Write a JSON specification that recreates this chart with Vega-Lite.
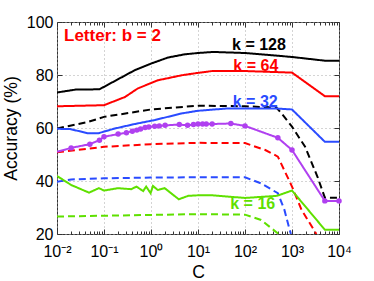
{
  "$schema": "https://vega.github.io/schema/vega-lite/v6.json",
  "width": 282,
  "height": 212,
  "autosize": {"type": "none"},
  "padding": {"left": 57, "top": 22, "right": 35, "bottom": 47},
  "config": {
    "view": {"stroke": "#333333", "strokeWidth": 1},
    "font": "Liberation Sans",
    "axis": {
      "labelFont": "Liberation Sans",
      "labelFontSize": 16,
      "labelColor": "#000000",
      "titleFont": "Liberation Sans",
      "titleFontSize": 17.6,
      "titleFontWeight": "normal",
      "titleColor": "#000000",
      "gridColor": "#a8a8a8",
      "gridDash": [1, 3],
      "gridWidth": 1,
      "domain": false,
      "tickColor": "#333333",
      "labelFlush": false,
      "labelOverlap": false
    }
  },
  "datasets": {
    "curves": [
      {"s": "k128", "k": "128", "d": "solid", "C": 0.01, "acc": 73.4},
      {"s": "k128", "k": "128", "d": "solid", "C": 0.025, "acc": 74.5},
      {"s": "k128", "k": "128", "d": "solid", "C": 0.08, "acc": 74.6},
      {"s": "k128", "k": "128", "d": "solid", "C": 0.45, "acc": 81.8},
      {"s": "k128", "k": "128", "d": "solid", "C": 1, "acc": 84.3},
      {"s": "k128", "k": "128", "d": "solid", "C": 2.3, "acc": 86.6},
      {"s": "k128", "k": "128", "d": "solid", "C": 5.2, "acc": 87.8},
      {"s": "k128", "k": "128", "d": "solid", "C": 10, "acc": 88.3},
      {"s": "k128", "k": "128", "d": "solid", "C": 21, "acc": 88.7},
      {"s": "k128", "k": "128", "d": "solid", "C": 100, "acc": 88.3},
      {"s": "k128", "k": "128", "d": "solid", "C": 300, "acc": 87.6},
      {"s": "k128", "k": "128", "d": "solid", "C": 1000, "acc": 86.8},
      {"s": "k128", "k": "128", "d": "solid", "C": 5000, "acc": 85.4},
      {"s": "k128", "k": "128", "d": "solid", "C": 10000, "acc": 85.4},

      {"s": "k64", "k": "64", "d": "solid", "C": 0.01, "acc": 68.2},
      {"s": "k64", "k": "64", "d": "solid", "C": 0.1, "acc": 68.6},
      {"s": "k64", "k": "64", "d": "solid", "C": 0.28, "acc": 71.7},
      {"s": "k64", "k": "64", "d": "solid", "C": 0.52, "acc": 74.9},
      {"s": "k64", "k": "64", "d": "solid", "C": 1.4, "acc": 78.0},
      {"s": "k64", "k": "64", "d": "solid", "C": 4.5, "acc": 79.9},
      {"s": "k64", "k": "64", "d": "solid", "C": 10, "acc": 80.8},
      {"s": "k64", "k": "64", "d": "solid", "C": 20, "acc": 81.5},
      {"s": "k64", "k": "64", "d": "solid", "C": 100, "acc": 81.5},
      {"s": "k64", "k": "64", "d": "solid", "C": 1000, "acc": 80.9},
      {"s": "k64", "k": "64", "d": "solid", "C": 5000, "acc": 72.0},
      {"s": "k64", "k": "64", "d": "solid", "C": 10000, "acc": 72.0},

      {"s": "k128d", "k": "128", "d": "dashed", "C": 0.01, "acc": 59.8},
      {"s": "k128d", "k": "128", "d": "dashed", "C": 0.046, "acc": 62.3},
      {"s": "k128d", "k": "128", "d": "dashed", "C": 0.1, "acc": 64.2},
      {"s": "k128d", "k": "128", "d": "dashed", "C": 1, "acc": 67.0},
      {"s": "k128d", "k": "128", "d": "dashed", "C": 10, "acc": 68.4},
      {"s": "k128d", "k": "128", "d": "dashed", "C": 100, "acc": 68.2},
      {"s": "k128d", "k": "128", "d": "dashed", "C": 465, "acc": 67.7},
      {"s": "k128d", "k": "128", "d": "dashed", "C": 600, "acc": 65.5},
      {"s": "k128d", "k": "128", "d": "dashed", "C": 1000, "acc": 60.5},
      {"s": "k128d", "k": "128", "d": "dashed", "C": 1900, "acc": 52.9},
      {"s": "k128d", "k": "128", "d": "dashed", "C": 3500, "acc": 41.5},
      {"s": "k128d", "k": "128", "d": "dashed", "C": 5000, "acc": 33.7},
      {"s": "k128d", "k": "128", "d": "dashed", "C": 10000, "acc": 33.7},

      {"s": "k32", "k": "32", "d": "solid", "C": 0.01, "acc": 59.7},
      {"s": "k32", "k": "32", "d": "solid", "C": 0.019, "acc": 59.6},
      {"s": "k32", "k": "32", "d": "solid", "C": 0.046, "acc": 58.0},
      {"s": "k32", "k": "32", "d": "solid", "C": 0.075, "acc": 58.0},
      {"s": "k32", "k": "32", "d": "solid", "C": 0.17, "acc": 59.8},
      {"s": "k32", "k": "32", "d": "solid", "C": 0.45, "acc": 61.5},
      {"s": "k32", "k": "32", "d": "solid", "C": 1.2, "acc": 63.0},
      {"s": "k32", "k": "32", "d": "solid", "C": 4.5, "acc": 65.5},
      {"s": "k32", "k": "32", "d": "solid", "C": 10, "acc": 66.5},
      {"s": "k32", "k": "32", "d": "solid", "C": 44, "acc": 67.4},
      {"s": "k32", "k": "32", "d": "solid", "C": 430, "acc": 67.4},
      {"s": "k32", "k": "32", "d": "solid", "C": 1000, "acc": 67.0},
      {"s": "k32", "k": "32", "d": "solid", "C": 5000, "acc": 54.8},
      {"s": "k32", "k": "32", "d": "solid", "C": 10000, "acc": 54.8},

      {"s": "k64d", "k": "64", "d": "dashed", "C": 0.01, "acc": 50.8},
      {"s": "k64d", "k": "64", "d": "dashed", "C": 0.05, "acc": 52.3},
      {"s": "k64d", "k": "64", "d": "dashed", "C": 0.1, "acc": 52.9},
      {"s": "k64d", "k": "64", "d": "dashed", "C": 1, "acc": 53.9},
      {"s": "k64d", "k": "64", "d": "dashed", "C": 10, "acc": 54.4},
      {"s": "k64d", "k": "64", "d": "dashed", "C": 100, "acc": 54.3},
      {"s": "k64d", "k": "64", "d": "dashed", "C": 270, "acc": 51.7},
      {"s": "k64d", "k": "64", "d": "dashed", "C": 500, "acc": 49.2},
      {"s": "k64d", "k": "64", "d": "dashed", "C": 1000, "acc": 37.9},
      {"s": "k64d", "k": "64", "d": "dashed", "C": 1600, "acc": 29.1},
      {"s": "k64d", "k": "64", "d": "dashed", "C": 3300, "acc": 20},

      {"s": "k32d", "k": "32", "d": "dashed", "C": 0.01, "acc": 39.7},
      {"s": "k32d", "k": "32", "d": "dashed", "C": 0.02, "acc": 40.6},
      {"s": "k32d", "k": "32", "d": "dashed", "C": 0.1, "acc": 41.0},
      {"s": "k32d", "k": "32", "d": "dashed", "C": 1, "acc": 41.3},
      {"s": "k32d", "k": "32", "d": "dashed", "C": 10, "acc": 41.4},
      {"s": "k32d", "k": "32", "d": "dashed", "C": 100, "acc": 41.4},
      {"s": "k32d", "k": "32", "d": "dashed", "C": 220, "acc": 39.1},
      {"s": "k32d", "k": "32", "d": "dashed", "C": 500, "acc": 35.4},
      {"s": "k32d", "k": "32", "d": "dashed", "C": 690, "acc": 29.1},
      {"s": "k32d", "k": "32", "d": "dashed", "C": 890, "acc": 21.6},
      {"s": "k32d", "k": "32", "d": "dashed", "C": 950, "acc": 20},

      {"s": "k16", "k": "16", "d": "solid", "C": 0.01, "acc": 41.9},
      {"s": "k16", "k": "16", "d": "solid", "C": 0.02, "acc": 38.5},
      {"s": "k16", "k": "16", "d": "solid", "C": 0.048, "acc": 35.6},
      {"s": "k16", "k": "16", "d": "solid", "C": 0.078, "acc": 37.3},
      {"s": "k16", "k": "16", "d": "solid", "C": 0.1, "acc": 36.4},
      {"s": "k16", "k": "16", "d": "solid", "C": 0.2, "acc": 37.3},
      {"s": "k16", "k": "16", "d": "solid", "C": 0.38, "acc": 36.9},
      {"s": "k16", "k": "16", "d": "solid", "C": 0.49, "acc": 37.9},
      {"s": "k16", "k": "16", "d": "solid", "C": 0.68, "acc": 36.2},
      {"s": "k16", "k": "16", "d": "solid", "C": 0.79, "acc": 37.9},
      {"s": "k16", "k": "16", "d": "solid", "C": 0.98, "acc": 35.4},
      {"s": "k16", "k": "16", "d": "solid", "C": 1.1, "acc": 38.1},
      {"s": "k16", "k": "16", "d": "solid", "C": 1.4, "acc": 36.6},
      {"s": "k16", "k": "16", "d": "solid", "C": 1.95, "acc": 37.3},
      {"s": "k16", "k": "16", "d": "solid", "C": 3.9, "acc": 33.1},
      {"s": "k16", "k": "16", "d": "solid", "C": 6.2, "acc": 34.4},
      {"s": "k16", "k": "16", "d": "solid", "C": 10, "acc": 34.6},
      {"s": "k16", "k": "16", "d": "solid", "C": 20, "acc": 34.6},
      {"s": "k16", "k": "16", "d": "solid", "C": 100, "acc": 33.6},
      {"s": "k16", "k": "16", "d": "solid", "C": 480, "acc": 34.4},
      {"s": "k16", "k": "16", "d": "solid", "C": 1000, "acc": 36.4},
      {"s": "k16", "k": "16", "d": "solid", "C": 5000, "acc": 21.6},
      {"s": "k16", "k": "16", "d": "solid", "C": 10000, "acc": 21.6},

      {"s": "k16d", "k": "16", "d": "dashed", "C": 0.01, "acc": 26.6},
      {"s": "k16d", "k": "16", "d": "dashed", "C": 1, "acc": 27.2},
      {"s": "k16d", "k": "16", "d": "dashed", "C": 10, "acc": 27.5},
      {"s": "k16d", "k": "16", "d": "dashed", "C": 100, "acc": 27.3},
      {"s": "k16d", "k": "16", "d": "dashed", "C": 220, "acc": 25.3},
      {"s": "k16d", "k": "16", "d": "dashed", "C": 520, "acc": 20},

      {"s": "sp", "k": "sp", "d": "solid", "C": 0.01, "acc": 51.0},
      {"s": "sp", "k": "sp", "d": "solid", "C": 0.02, "acc": 52.5},
      {"s": "sp", "k": "sp", "d": "solid", "C": 0.05, "acc": 53.9},
      {"s": "sp", "k": "sp", "d": "solid", "C": 0.08, "acc": 55.4},
      {"s": "sp", "k": "sp", "d": "solid", "C": 0.1, "acc": 56.7},
      {"s": "sp", "k": "sp", "d": "solid", "C": 0.2, "acc": 57.7},
      {"s": "sp", "k": "sp", "d": "solid", "C": 0.3, "acc": 58.2},
      {"s": "sp", "k": "sp", "d": "solid", "C": 0.4, "acc": 58.8},
      {"s": "sp", "k": "sp", "d": "solid", "C": 0.5, "acc": 59.2},
      {"s": "sp", "k": "sp", "d": "solid", "C": 0.6, "acc": 59.6},
      {"s": "sp", "k": "sp", "d": "solid", "C": 0.75, "acc": 60.2},
      {"s": "sp", "k": "sp", "d": "solid", "C": 0.9, "acc": 60.4},
      {"s": "sp", "k": "sp", "d": "solid", "C": 1.2, "acc": 60.7},
      {"s": "sp", "k": "sp", "d": "solid", "C": 1.5, "acc": 60.8},
      {"s": "sp", "k": "sp", "d": "solid", "C": 2, "acc": 61.0},
      {"s": "sp", "k": "sp", "d": "solid", "C": 4, "acc": 61.3},
      {"s": "sp", "k": "sp", "d": "solid", "C": 6, "acc": 61.0},
      {"s": "sp", "k": "sp", "d": "solid", "C": 8, "acc": 61.3},
      {"s": "sp", "k": "sp", "d": "solid", "C": 10, "acc": 61.5},
      {"s": "sp", "k": "sp", "d": "solid", "C": 12.5, "acc": 61.5},
      {"s": "sp", "k": "sp", "d": "solid", "C": 15, "acc": 61.5},
      {"s": "sp", "k": "sp", "d": "solid", "C": 20, "acc": 61.5},
      {"s": "sp", "k": "sp", "d": "solid", "C": 50, "acc": 61.7},
      {"s": "sp", "k": "sp", "d": "solid", "C": 100, "acc": 60.8},
      {"s": "sp", "k": "sp", "d": "solid", "C": 500, "acc": 56.3},
      {"s": "sp", "k": "sp", "d": "solid", "C": 1000, "acc": 51.7},
      {"s": "sp", "k": "sp", "d": "solid", "C": 5000, "acc": 32.5},
      {"s": "sp", "k": "sp", "d": "solid", "C": 10000, "acc": 32.5}
    ],
    "title": [
      {"label": "Letter: b = 2", "k": "64", "C": 0.0141, "acc": 94.6}
    ],
    "klabels": [
      {"label": "k = 128", "k": "128", "C": 198, "acc": 91.3},
      {"label": "k = 64", "k": "64", "C": 170, "acc": 83.4},
      {"label": "k = 32", "k": "32", "C": 165, "acc": 70.0},
      {"label": "k = 16", "k": "16", "C": 146, "acc": 31.5}
    ]
  },
  "encoding": {
    "x": {
      "field": "C", "type": "quantitative",
      "scale": {"type": "log", "domain": [0.01, 10000], "nice": false}
    },
    "y": {
      "field": "acc", "type": "quantitative",
      "scale": {"domain": [20, 100], "nice": false}
    },
    "color": {
      "field": "k", "type": "nominal",
      "scale": {"domain": ["128", "64", "32", "16", "sp"], "range": ["#000000", "#ff0000", "#2a4bff", "#5fe000", "#b040f0"]},
      "legend": null
    }
  },
  "layer": [
    {
      "data": {"name": "curves"},
      "mark": {"type": "line", "strokeWidth": 2, "clip": true},
      "encoding": {
        "x": {
          "field": "C", "type": "quantitative", "title": "C",
          "axis": {
            "orient": "bottom",
            "values": [0.01, 0.02, 0.03, 0.04, 0.05, 0.06, 0.07, 0.08, 0.09, 0.1, 0.2, 0.3, 0.4, 0.5, 0.6, 0.7, 0.8, 0.9, 1, 2, 3, 4, 5, 6, 7, 8, 9, 10, 20, 30, 40, 50, 60, 70, 80, 90, 100, 200, 300, 400, 500, 600, 700, 800, 900, 1000, 2000, 3000, 4000, 5000, 6000, 7000, 8000, 9000, 10000],
            "labelExpr": "datum.value == 0.01 ? '10⁻²' : datum.value == 0.1 ? '10⁻¹' : datum.value == 1 ? '10⁰' : datum.value == 10 ? '10¹' : datum.value == 100 ? '10²' : datum.value == 1000 ? '10³' : datum.value == 10000 ? '10⁴' : ''",
            "tickSize": {"condition": {"test": "indexof([0.01,0.1,1,10,100,1000,10000], datum.value) >= 0", "value": -5}, "value": -3},
            "gridOpacity": {"condition": {"test": "indexof([0.01,0.1,1,10,100,1000,10000], datum.value) >= 0", "value": 1}, "value": 0},
            "labelPadding": 14,
            "labelBaseline": "top",
            "titlePadding": 2
          }
        },
        "y": {
          "field": "acc", "type": "quantitative", "title": "Accuracy (%)",
          "axis": {
            "orient": "left",
            "values": [20, 40, 60, 80, 100],
            "tickSize": -5,
            "labelPadding": 9,
            "titlePadding": 6
          }
        },
        "strokeDash": {
          "field": "d", "type": "nominal",
          "scale": {"domain": ["solid", "dashed"], "range": [[1, 0], [7, 4]]},
          "legend": null
        },
        "detail": {"field": "s", "type": "nominal"}
      }
    },
    {
      "data": {"name": "curves"},
      "transform": [{"filter": "datum.s == 'sp' && datum.C > 0.01"}],
      "mark": {"type": "point", "filled": true, "size": 30, "opacity": 1},
      "encoding": {
        "x": {
          "field": "C", "type": "quantitative", "title": null,
          "axis": {
            "orient": "top",
            "values": [0.01, 0.02, 0.03, 0.04, 0.05, 0.06, 0.07, 0.08, 0.09, 0.1, 0.2, 0.3, 0.4, 0.5, 0.6, 0.7, 0.8, 0.9, 1, 2, 3, 4, 5, 6, 7, 8, 9, 10, 20, 30, 40, 50, 60, 70, 80, 90, 100, 200, 300, 400, 500, 600, 700, 800, 900, 1000, 2000, 3000, 4000, 5000, 6000, 7000, 8000, 9000, 10000],
            "labels": false,
            "grid": false,
            "tickSize": {"condition": {"test": "indexof([0.01,0.1,1,10,100,1000,10000], datum.value) >= 0", "value": -5}, "value": -3}
          }
        },
        "y": {
          "field": "acc", "type": "quantitative", "title": null,
          "axis": {
            "orient": "right",
            "values": [20, 40, 60, 80, 100],
            "labels": false,
            "grid": false,
            "tickSize": -5
          }
        }
      }
    },
    {
      "data": {"name": "title"},
      "mark": {"type": "text", "align": "left", "baseline": "middle", "font": "Liberation Sans", "fontWeight": "bold", "fontSize": 17},
      "encoding": {
        "x": {"field": "C", "type": "quantitative", "axis": null},
        "y": {"field": "acc", "type": "quantitative", "axis": null},
        "text": {"field": "label", "type": "nominal"}
      }
    },
    {
      "data": {"name": "klabels"},
      "mark": {"type": "text", "align": "center", "baseline": "middle", "font": "Liberation Sans", "fontWeight": "bold", "fontSize": 16},
      "encoding": {
        "x": {"field": "C", "type": "quantitative", "axis": null},
        "y": {"field": "acc", "type": "quantitative", "axis": null},
        "text": {"field": "label", "type": "nominal"}
      }
    }
  ]
}
